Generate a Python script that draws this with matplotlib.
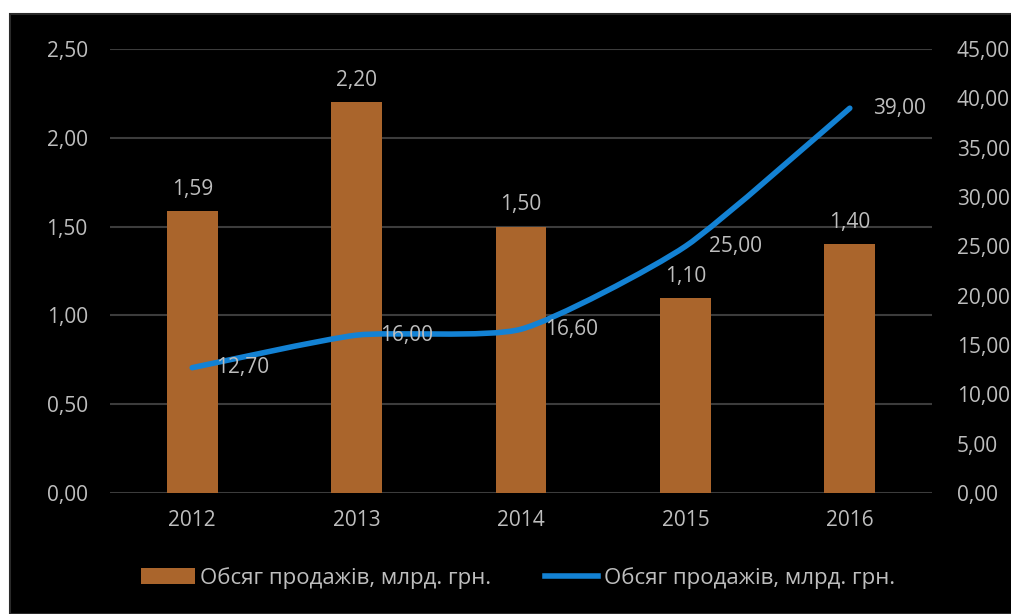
import matplotlib.pyplot as plt
from matplotlib.patches import Rectangle
from matplotlib.path import Path
from matplotlib.patches import PathPatch
from matplotlib.lines import Line2D

years = ["2012", "2013", "2014", "2015", "2016"]
bar_values = [1.59, 2.20, 1.50, 1.10, 1.40]
line_values = [12.70, 16.00, 16.60, 25.00, 39.00]
series_name = "Обсяг продажів, млрд. грн."

left_ticks = [0.0, 0.5, 1.0, 1.5, 2.0, 2.5]
right_ticks = [0, 5, 10, 15, 20, 25, 30, 35, 40, 45]

BAR_COLOR = "#AA652C"
LINE_COLOR = "#1382D4"
TEXT_COLOR = "#BEBEBE"
GRID_COLOR = "#3C3C3C"

plt.rcParams["font.family"] = ["Open Sans", "DejaVu Sans"]


def fmt(v):
    return f"{v:.2f}".replace(".", ",")


def smooth_path(xs, ys, k=10):
    # cubic bezier segments through every point, gently rounded corners
    pts = list(zip(xs, ys))
    verts = [pts[0]]
    codes = [Path.MOVETO]
    n = len(pts)
    for i in range(n - 1):
        p0 = pts[i - 1] if i > 0 else pts[i]
        p1 = pts[i]
        p2 = pts[i + 1]
        p3 = pts[i + 2] if i + 2 < n else pts[i + 1]
        c1 = (p1[0] + (p2[0] - p0[0]) / k, p1[1] + (p2[1] - p0[1]) / k)
        c2 = (p2[0] - (p3[0] - p1[0]) / k, p2[1] - (p3[1] - p1[1]) / k)
        verts += [c1, c2, p2]
        codes += [Path.CURVE4] * 3
    return Path(verts, codes)


fig = plt.figure(figsize=(10.12, 6.14), dpi=100, facecolor="white")

# black chart background
fig.patches.append(Rectangle((10 / 1012, 0), 1, 600 / 614, transform=fig.transFigure,
                             facecolor="black", edgecolor="#2a2a2a", linewidth=1.5,
                             zorder=-10))

ax = fig.add_axes([110 / 1012, 121 / 614, 822 / 1012, 444 / 614])
ax.set_facecolor("none")
x = list(range(len(years)))

bars = ax.bar(x, bar_values, width=0.31, color=BAR_COLOR, zorder=2)
ax.set_ylim(0, 2.5)
ax.set_xlim(-0.5, len(years) - 0.5)
ax.set_yticks(left_ticks)
ax.set_yticklabels([fmt(v) for v in left_ticks])
ax.set_xticks(x)
ax.set_xticklabels(years)
ax.grid(axis="y", color=GRID_COLOR, linewidth=1.5, zorder=0)
ax.set_axisbelow(True)
for s in ax.spines.values():
    s.set_visible(False)
ax.tick_params(axis="both", length=0, colors=TEXT_COLOR, labelsize=15)
ax.tick_params(axis="y", pad=16)
ax.tick_params(axis="x", pad=12)

for xi, v in zip(x, bar_values):
    ax.annotate(fmt(v), (xi, v), xytext=(0, 8), textcoords="offset points",
                ha="center", va="bottom", color=TEXT_COLOR, fontsize=15)

ax2 = ax.twinx()
ax2.set_ylim(0, 45)
ax2.set_yticks(right_ticks)
ax2.set_yticklabels([fmt(v) for v in right_ticks])
for s in ax2.spines.values():
    s.set_visible(False)
ax2.tick_params(axis="y", length=0, colors=TEXT_COLOR, labelsize=15, pad=18)

ax2.add_patch(PathPatch(smooth_path(x, line_values), facecolor="none",
                        edgecolor=LINE_COLOR, linewidth=4, capstyle="round",
                        zorder=3))

for xi, v in zip(x, line_values):
    ax2.annotate(fmt(v), (xi, v), xytext=(17, 0), textcoords="offset points",
                 ha="left", va="center", color=TEXT_COLOR, fontsize=15)

handles = [Rectangle((0, 0), 1, 1, facecolor=BAR_COLOR),
           Line2D([], [], color=LINE_COLOR, linewidth=4)]
leg = fig.legend(handles, [series_name, series_name], loc="center",
                 bbox_to_anchor=(518 / 1012, 36 / 614), ncol=2, frameon=False,
                 fontsize=16, handlelength=2.4, handleheight=0.7,
                 handletextpad=0.25, columnspacing=2.4)
for t in leg.get_texts():
    t.set_color(TEXT_COLOR)

fig.savefig("out.png", dpi=100, facecolor=fig.get_facecolor())
